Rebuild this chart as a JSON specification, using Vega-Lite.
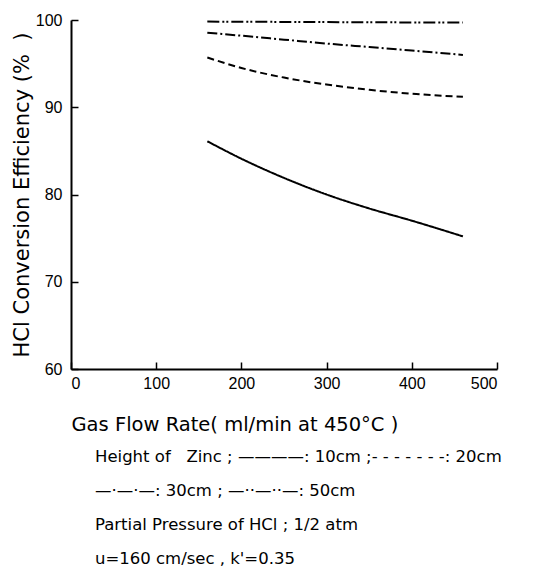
{
  "$schema": "https://vega.github.io/schema/vega-lite/v6.json",
  "width": 426,
  "height": 349,
  "autosize": {"type": "none"},
  "padding": {"left": 71, "top": 20, "right": 36, "bottom": 204},
  "background": "white",
  "config": {
    "view": {"stroke": null},
    "axis": {"grid": false, "domainColor": "black", "tickColor": "black", "labelColor": "black", "titleColor": "black"}
  },
  "title": {
    "text": ["Height of\u00a0\u00a0 Zinc ; ————: 10cm ;- - - - - - -: 20cm", "—·—·—: 30cm ; —··—··—: 50cm", "Partial Pressure of HCl ; 1/2 atm", "u=160 cm/sec , k'=0.35"],
    "orient": "bottom",
    "anchor": "start",
    "frame": "group",
    "dx": 24,
    "offset": 15,
    "font": "DejaVu Sans",
    "fontSize": 16.5,
    "fontWeight": "normal",
    "lineHeight": 34,
    "color": "black"
  },
  "data": {
    "values": [
      {"flow": 160, "eff": 86.1, "height": "10cm"},
      {"flow": 200, "eff": 84.1, "height": "10cm"},
      {"flow": 250, "eff": 81.9, "height": "10cm"},
      {"flow": 300, "eff": 80.0, "height": "10cm"},
      {"flow": 350, "eff": 78.4, "height": "10cm"},
      {"flow": 400, "eff": 77.0, "height": "10cm"},
      {"flow": 460, "eff": 75.2, "height": "10cm"},
      {"flow": 160, "eff": 95.7, "height": "20cm"},
      {"flow": 200, "eff": 94.5, "height": "20cm"},
      {"flow": 250, "eff": 93.4, "height": "20cm"},
      {"flow": 300, "eff": 92.6, "height": "20cm"},
      {"flow": 350, "eff": 92.0, "height": "20cm"},
      {"flow": 400, "eff": 91.55, "height": "20cm"},
      {"flow": 460, "eff": 91.2, "height": "20cm"},
      {"flow": 160, "eff": 98.55, "height": "30cm"},
      {"flow": 200, "eff": 98.2, "height": "30cm"},
      {"flow": 250, "eff": 97.75, "height": "30cm"},
      {"flow": 300, "eff": 97.3, "height": "30cm"},
      {"flow": 350, "eff": 96.9, "height": "30cm"},
      {"flow": 400, "eff": 96.5, "height": "30cm"},
      {"flow": 460, "eff": 96.0, "height": "30cm"},
      {"flow": 160, "eff": 99.82, "height": "50cm"},
      {"flow": 250, "eff": 99.78, "height": "50cm"},
      {"flow": 350, "eff": 99.74, "height": "50cm"},
      {"flow": 460, "eff": 99.7, "height": "50cm"}
    ]
  },
  "mark": {"type": "line", "color": "black", "strokeWidth": 2, "interpolate": "monotone"},
  "encoding": {
    "x": {
      "field": "flow",
      "type": "quantitative",
      "scale": {"domain": [0, 500], "nice": false},
      "axis": {
        "values": [0, 100, 200, 300, 400, 500],
        "tickSize": -7,
        "tickWidth": 1.5,
        "domainWidth": 2,
        "labelFont": "Liberation Sans",
        "labelFontSize": 16,
        "labelPadding": 13,
        "title": "Gas Flow Rate( ml/min at 450°C )",
        "titleFont": "DejaVu Sans",
        "titleFontSize": 19.5,
        "titleFontWeight": "normal",
        "titleAnchor": "start",
        "titlePadding": 24
      }
    },
    "y": {
      "field": "eff",
      "type": "quantitative",
      "scale": {"domain": [60, 100], "nice": false, "zero": false},
      "axis": {
        "values": [60, 70, 80, 90, 100],
        "tickSize": -7,
        "tickWidth": 1.5,
        "domainWidth": 2,
        "labelFont": "Liberation Sans",
        "labelFontSize": 16,
        "labelPadding": 16,
        "title": "HCl Conversion Efficiency (%\u00a0\u00a0)",
        "titleFont": "DejaVu Sans",
        "titleFontSize": 21,
        "titleFontWeight": "normal",
        "titlePadding": 3
      }
    },
    "strokeDash": {
      "field": "height",
      "type": "nominal",
      "scale": {"domain": ["10cm", "20cm", "30cm", "50cm"], "range": [[1, 0], [7, 4], [10, 3, 2, 3], [12, 3, 2, 2, 2, 3]]},
      "legend": null
    }
  }
}
